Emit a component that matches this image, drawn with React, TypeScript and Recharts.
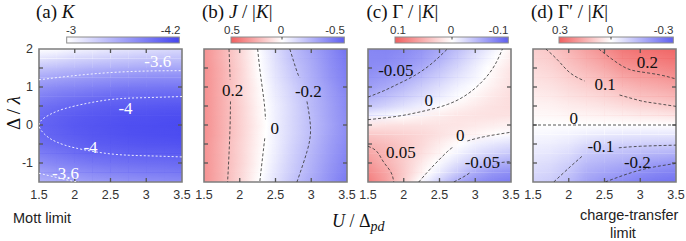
import React from 'react';
import { ComposedChart, XAxis, YAxis, ReferenceArea, ReferenceLine, ReferenceDot, Line } from 'recharts';

const SANS = '"Liberation Sans", Arial, sans-serif';
const SERIF = '"Liberation Serif", "Times New Roman", serif';

// ---------- data ----------
const X_NODES = [1.5, 1.75, 2, 2.25, 2.5, 2.75, 3, 3.25, 3.5];
const Y_NODES = [2, 1.75, 1.5, 1.25, 1, 0.75, 0.5, 0.25, 0, -0.25, -0.5, -0.75, -1, -1.25, -1.5];
const X_TICKS = [1.5, 2, 2.5, 3, 3.5];
const Y_TICKS = [-1, 0, 1, 2];
const X_DOMAIN = [1.5, 3.5];
const Y_DOMAIN = [-1.5, 2];
const INNER_X_TICKS = [2, 2.5, 3];
const INNER_Y_TICKS_LEFT = [-1, -0.5, 0, 0.5, 1, 1.5];
const INNER_Y_TICKS_RIGHT = [-1, 0, 1];

// (a) K  (rows: y = 2 ... -1.5, cols: x = 1.5 ... 3.5)
const K_GRID = [
  [-2.97, -3.02, -3.07, -3.10, -3.14, -3.17, -3.20, -3.23, -3.25],
  [-3.18, -3.22, -3.27, -3.30, -3.33, -3.36, -3.38, -3.40, -3.41],
  [-3.38, -3.42, -3.46, -3.50, -3.52, -3.54, -3.56, -3.57, -3.58],
  [-3.56, -3.60, -3.63, -3.66, -3.69, -3.71, -3.73, -3.74, -3.74],
  [-3.70, -3.75, -3.78, -3.81, -3.84, -3.86, -3.87, -3.88, -3.88],
  [-3.82, -3.87, -3.91, -3.94, -3.97, -3.98, -3.99, -4.00, -4.00],
  [-3.91, -3.96, -4.00, -4.03, -4.05, -4.06, -4.07, -4.08, -4.09],
  [-3.97, -4.02, -4.06, -4.08, -4.10, -4.12, -4.13, -4.14, -4.15],
  [-4.00, -4.04, -4.08, -4.10, -4.12, -4.14, -4.15, -4.16, -4.17],
  [-3.98, -4.02, -4.06, -4.09, -4.11, -4.13, -4.14, -4.15, -4.16],
  [-3.93, -3.97, -4.01, -4.05, -4.07, -4.09, -4.10, -4.11, -4.12],
  [-3.84, -3.89, -3.94, -3.98, -4.00, -4.02, -4.03, -4.04, -4.05],
  [-3.73, -3.79, -3.84, -3.88, -3.91, -3.93, -3.94, -3.95, -3.97],
  [-3.61, -3.67, -3.72, -3.76, -3.79, -3.82, -3.84, -3.85, -3.87],
  [-3.50, -3.55, -3.60, -3.64, -3.67, -3.70, -3.72, -3.74, -3.76],
];

// (b) J/|K|
const J_GRID = [
  [0.34, 0.24, 0.13, 0.00, -0.11, -0.21, -0.29, -0.36, -0.44],
  [0.34, 0.24, 0.13, 0.01, -0.10, -0.20, -0.27, -0.35, -0.42],
  [0.35, 0.25, 0.14, 0.01, -0.09, -0.18, -0.26, -0.34, -0.41],
  [0.35, 0.25, 0.14, 0.02, -0.08, -0.17, -0.25, -0.33, -0.40],
  [0.35, 0.25, 0.14, 0.03, -0.07, -0.15, -0.24, -0.31, -0.39],
  [0.35, 0.25, 0.14, 0.03, -0.06, -0.14, -0.22, -0.30, -0.37],
  [0.35, 0.25, 0.15, 0.04, -0.05, -0.13, -0.22, -0.29, -0.37],
  [0.35, 0.25, 0.15, 0.04, -0.05, -0.13, -0.21, -0.29, -0.36],
  [0.35, 0.25, 0.15, 0.05, -0.05, -0.13, -0.21, -0.28, -0.36],
  [0.35, 0.25, 0.15, 0.04, -0.05, -0.13, -0.21, -0.29, -0.36],
  [0.34, 0.24, 0.14, 0.04, -0.05, -0.14, -0.22, -0.30, -0.37],
  [0.34, 0.24, 0.14, 0.03, -0.06, -0.15, -0.23, -0.31, -0.38],
  [0.34, 0.24, 0.14, 0.03, -0.07, -0.16, -0.24, -0.32, -0.39],
  [0.34, 0.24, 0.13, 0.02, -0.08, -0.17, -0.25, -0.33, -0.40],
  [0.34, 0.24, 0.13, 0.01, -0.09, -0.19, -0.27, -0.34, -0.42],
];

// (c) Gamma/|K|
const G_GRID = [
  [-0.075, -0.076, -0.073, -0.066, -0.055, -0.041, -0.025, -0.009, 0.008],
  [-0.074, -0.074, -0.069, -0.061, -0.049, -0.033, -0.017, -0.002, 0.012],
  [-0.072, -0.069, -0.063, -0.053, -0.039, -0.025, -0.010, 0.004, 0.016],
  [-0.067, -0.062, -0.055, -0.042, -0.030, -0.017, -0.006, 0.006, 0.018],
  [-0.061, -0.054, -0.043, -0.031, -0.020, -0.009, 0.000, 0.010, 0.019],
  [-0.050, -0.041, -0.032, -0.022, -0.012, -0.002, 0.007, 0.015, 0.021],
  [-0.036, -0.028, -0.019, -0.010, -0.001, 0.007, 0.013, 0.018, 0.021],
  [-0.010, -0.005, 0.001, 0.007, 0.012, 0.016, 0.018, 0.019, 0.018],
  [0.015, 0.018, 0.018, 0.018, 0.017, 0.016, 0.014, 0.011, 0.008],
  [0.035, 0.032, 0.029, 0.025, 0.019, 0.012, 0.006, 0.001, -0.003],
  [0.047, 0.041, 0.034, 0.024, 0.012, 0.001, -0.009, -0.015, -0.020],
  [0.056, 0.046, 0.033, 0.020, 0.006, -0.008, -0.020, -0.028, -0.035],
  [0.065, 0.048, 0.032, 0.014, -0.004, -0.020, -0.034, -0.046, -0.052],
  [0.073, 0.056, 0.033, 0.008, -0.014, -0.034, -0.054, -0.065, -0.070],
  [0.082, 0.060, 0.030, -0.004, -0.030, -0.054, -0.068, -0.077, -0.082],
];

// (d) Gamma'/|K|
const GP_GRID = [
  [0.090, 0.107, 0.140, 0.178, 0.212, 0.252, 0.269, 0.275, 0.285],
  [0.080, 0.094, 0.124, 0.156, 0.186, 0.225, 0.242, 0.250, 0.262],
  [0.068, 0.081, 0.107, 0.134, 0.159, 0.196, 0.213, 0.220, 0.235],
  [0.057, 0.067, 0.089, 0.110, 0.132, 0.163, 0.180, 0.189, 0.205],
  [0.046, 0.054, 0.071, 0.088, 0.105, 0.130, 0.147, 0.157, 0.171],
  [0.034, 0.040, 0.054, 0.066, 0.079, 0.097, 0.114, 0.124, 0.136],
  [0.023, 0.027, 0.036, 0.044, 0.053, 0.065, 0.078, 0.088, 0.101],
  [0.011, 0.013, 0.018, 0.022, 0.026, 0.032, 0.039, 0.044, 0.051],
  [0, 0, 0, 0, 0, 0, 0, 0, 0],
  [-0.014, -0.016, -0.022, -0.034, -0.040, -0.043, -0.045, -0.045, -0.047],
  [-0.028, -0.032, -0.044, -0.068, -0.081, -0.086, -0.089, -0.091, -0.094],
  [-0.042, -0.048, -0.066, -0.101, -0.114, -0.122, -0.131, -0.138, -0.146],
  [-0.056, -0.065, -0.088, -0.128, -0.142, -0.155, -0.172, -0.185, -0.198],
  [-0.070, -0.081, -0.108, -0.152, -0.170, -0.188, -0.210, -0.225, -0.235],
  [-0.085, -0.097, -0.128, -0.175, -0.198, -0.215, -0.240, -0.255, -0.265],
];

// contour lines: [x, y] points, null = break for inline label
const A_CONTOURS = [
  [[1.5, 1.19], [2.0, 1.30], [2.5, 1.38], [3.0, 1.42], [3.5, 1.43]],
  [[3.5, 0.75], [3.0, 0.72], [2.5, 0.67], [2.0, 0.50], [1.75, 0.36], [1.6, 0.22], [1.5, 0.0], [1.6, -0.28], [1.75, -0.45], [2.0, -0.6], [2.5, -0.76], [3.0, -0.81], [3.5, -0.84]],
  [[1.5, -1.27], [1.7, -1.36], [1.9, -1.45], [2.05, -1.5]],
];
const B_CONTOURS = [
  [[1.85, 2], [1.86, 1.5], [1.865, 1.2], null, [1.87, 0.62], [1.865, 0], [1.85, -0.75], [1.83, -1.5]],
  [[2.25, 2], [2.29, 1.33], [2.34, 0.62], [2.36, 0.15], null, [2.35, -0.35], [2.31, -1.0], [2.28, -1.5]],
  [[2.70, 2], [2.80, 1.41], [2.84, 1.25], null, [2.94, 0.62], [2.99, -0.09], [2.94, -0.70], [2.80, -1.5]],
];
const C_CONTOURS = [
  [[1.5, 0.735], [1.72, 0.9], [1.91, 1.07], [2.14, 1.29], [2.38, 1.6], [2.61, 2.0]],
  [[1.5, 0.14], [1.91, 0.23], [2.24, 0.35], [2.61, 0.54], [2.94, 0.88], [3.22, 1.42], [3.38, 2.0]],
  [[2.21, -1.5], [2.38, -1.14], [2.61, -0.70], [2.70, -0.58], null, [2.89, -0.42], [3.12, -0.31], [3.5, -0.19]],
  [[2.70, -1.5], [2.84, -1.36], [2.93, -1.25], null, [3.3, -1.0], [3.5, -0.96]],
  [[1.5, -0.56], [1.58, -0.63], [1.65, -0.76], [1.72, -0.98], [1.82, -1.24], [1.86, -1.5]],
];
const D_CONTOURS = [
  [[2.42, 2.0], [2.6, 1.74], [2.8, 1.50], [3.0, 1.40], [3.27, 1.32], [3.5, 1.21]],
  [[1.68, 2.0], [1.85, 1.7], [2.02, 1.37], [2.22, 1.16], null, [2.71, 0.79], [3.0, 0.64], [3.18, 0.58], [3.5, 0.49]],
  [[1.5, 0], [3.5, 0]],
  [[1.79, -1.5], [2.02, -1.10], [2.2, -0.80], null, [2.7, -0.6], [3.0, -0.56], [3.5, -0.53]],
  [[2.51, -1.5], [2.71, -1.36], [2.9, -1.24], [3.1, -1.14], [3.3, -1.07], [3.5, -1.01]],
];

// contour labels
const A_LABELS = [
  { x: 3.16, y: 1.68, t: '-3.6' },
  { x: 2.71, y: 0.44, t: '-4' },
  { x: 2.22, y: -0.57, t: '-4' },
  { x: 1.87, y: -1.26, t: '-3.6' },
];
const B_LABELS = [
  { x: 1.9, y: 0.92, t: '0.2' },
  { x: 2.49, y: -0.07, t: '0' },
  { x: 2.96, y: 0.9, t: '-0.2' },
];
const C_LABELS = [
  { x: 1.89, y: 1.44, t: '-0.05' },
  { x: 2.35, y: 0.67, t: '0' },
  { x: 2.79, y: -0.27, t: '0' },
  { x: 3.10, y: -0.96, t: '-0.05' },
  { x: 1.96, y: -0.70, t: '0.05' },
];
const D_LABELS = [
  { x: 3.10, y: 1.65, t: '0.2' },
  { x: 2.51, y: 1.07, t: '0.1' },
  { x: 2.07, y: 0.19, t: '0' },
  { x: 2.45, y: -0.56, t: '-0.1' },
  { x: 2.96, y: -0.96, t: '-0.2' },
];

// colour-bar tick labels
const CB_A = ['-3', '-4.2'];
const CB_B = ['0.5', '0', '-0.5'];
const CB_C = ['0.1', '0', '-0.1'];
const CB_D = ['0.3', '0', '-0.3'];

// ---------- colours ----------
const WHITE = [255, 255, 255];
const RED = [240, 95, 95];
const BLUE = [95, 95, 240];
const DEEP_BLUE = [70, 70, 240];

function mix(a: number[], t: number) {
  const c = WHITE.map((w, i) => Math.round(w + (a[i] - w) * t));
  return `rgb(${c[0]},${c[1]},${c[2]})`;
}
const seqK = (v: number) => mix(DEEP_BLUE, Math.max(0, Math.min(1, (-3 - v) / 1.2)));
const diverging = (max: number) => (v: number) => {
  const t = Math.max(-1, Math.min(1, v / max));
  return t >= 0 ? mix(RED, t) : mix(BLUE, -t);
};

// ---------- panel ----------
type Pt = [number, number] | null;

// cells between grid nodes; layer 0 carries the top-edge values, layer 1 the bottom-edge values
function buildCells(grid: number[][]) {
  const cells: any[] = [];
  for (let j = 0; j < Y_NODES.length - 1; j++) {
    for (let i = 0; i < X_NODES.length - 1; i++) {
      cells.push({
        x1: X_NODES[i], x2: X_NODES[i + 1], y1: Y_NODES[j + 1], y2: Y_NODES[j],
        top: [grid[j][i], grid[j][i + 1]], bot: [grid[j + 1][i], grid[j + 1][i + 1]],
      });
    }
  }
  return cells;
}

function gradStops(a: number, b: number, cmap: (v: number) => string, div: boolean) {
  if (div && a * b < 0) {
    const f = a / (a - b);
    return [[0, cmap(a)], [f, 'rgb(255,255,255)'], [1, cmap(b)]];
  }
  return [[0, cmap(a)], [1, cmap(b)]];
}

function toLine(c: Pt[]) {
  const out: any[] = [];
  let last = 0;
  c.forEach((p) => {
    if (p === null) out.push({ x: last, y: null });
    else { out.push({ x: p[0], y: p[1] }); last = p[0]; }
  });
  return out;
}

const PW = 143;

function Panel(props: any) {
  const { id, left, grid, cmap, div, contours, labels, lineColor, labelColor, showY, dash } = props;
  const cells = buildCells(grid);
  const mLeft = showY ? 0 : 14;
  const yW = showY ? 39 : 0;
  const chartLeft = showY ? 0 : left - 14;
  const width = (showY ? 39 : 14) + PW + 14;
  const tickStroke = '#555';
  const tl = 0.105;
  const tlx = 0.056;
  const fadeId = `${id}fade`;
  return (
    <div style={{ position: 'absolute', left: chartLeft, top: 0 }}>
      <ComposedChart width={width} height={241} margin={{ top: 49, right: 14, bottom: 39, left: mLeft }}>
        <defs>
          <linearGradient id={`${id}fadeg`} x1="0" y1="0" x2="0" y2="1">
            <stop offset={0} stopColor="#000" />
            <stop offset={1} stopColor="#fff" />
          </linearGradient>
          <mask id={fadeId} maskContentUnits="objectBoundingBox" x="-0.05" y="-0.05" width="1.1" height="1.1">
            <rect x={0} y={0} width={1} height={1} fill={`url(#${id}fadeg)`} />
          </mask>
          {cells.map((c: any, k: number) => (
            <React.Fragment key={k}>
              <linearGradient id={`${id}t${k}`} x1="0" y1="0" x2="1" y2="0">
                {gradStops(c.top[0], c.top[1], cmap, div).map((s, m) => (
                  <stop key={m} offset={s[0] as number} stopColor={s[1] as string} />
                ))}
              </linearGradient>
              <linearGradient id={`${id}b${k}`} x1="0" y1="0" x2="1" y2="0">
                {gradStops(c.bot[0], c.bot[1], cmap, div).map((s, m) => (
                  <stop key={m} offset={s[0] as number} stopColor={s[1] as string} />
                ))}
              </linearGradient>
            </React.Fragment>
          ))}
        </defs>
        <XAxis type="number" dataKey="x" domain={X_DOMAIN} allowDataOverflow ticks={X_TICKS} interval={0}
          tickLine={false} axisLine={false} tickSize={0} tickMargin={8} height={20}
          tick={{ fontSize: 12.5, fill: '#333', fontFamily: SANS }} />
        {showY ? (
          <YAxis type="number" dataKey="y" domain={Y_DOMAIN} allowDataOverflow ticks={Y_TICKS} interval={0}
            width={yW} tickLine={false} axisLine={false} tickSize={0} tickMargin={6}
            tick={{ fontSize: 12.5, fill: '#333', fontFamily: SANS }} />
        ) : (
          <YAxis type="number" dataKey="y" domain={Y_DOMAIN} allowDataOverflow hide />
        )}
        {cells.map((c: any, k: number) => (
          <ReferenceArea key={`t${k}`} x1={c.x1} x2={c.x2} y1={c.y1} y2={c.y2}
            fill={`url(#${id}t${k})`} fillOpacity={1} stroke="none" strokeWidth={0}
            shapeRendering="crispEdges" ifOverflow="visible" />
        ))}
        {cells.map((c: any, k: number) => (
          <ReferenceArea key={`b${k}`} x1={c.x1} x2={c.x2} y1={c.y1} y2={c.y2}
            fill={`url(#${id}b${k})`} fillOpacity={1} stroke="none" strokeWidth={0}
            mask={`url(#${fadeId})`}
            shapeRendering="crispEdges" ifOverflow="visible" />
        ))}
        <ReferenceArea x1={1.5} x2={3.5} y1={-1.5} y2={2} fill="none" fillOpacity={0} stroke="#7d7d7d" strokeWidth={1.6} ifOverflow="visible" />
        {INNER_X_TICKS.map((t) => (
          <ReferenceLine key={`xb${t}`} segment={[{ x: t, y: -1.5 }, { x: t, y: -1.5 + tl }]} stroke={tickStroke} strokeWidth={1.3} ifOverflow="visible" />
        ))}
        {INNER_X_TICKS.map((t) => (
          <ReferenceLine key={`xt${t}`} segment={[{ x: t, y: 2 }, { x: t, y: 2 - tl }]} stroke={tickStroke} strokeWidth={1.3} ifOverflow="visible" />
        ))}
        {INNER_Y_TICKS_LEFT.map((t) => (
          <ReferenceLine key={`yl${t}`} segment={[{ x: 1.5, y: t }, { x: 1.5 + tlx, y: t }]} stroke={tickStroke} strokeWidth={1.3} ifOverflow="visible" />
        ))}
        {INNER_Y_TICKS_RIGHT.map((t) => (
          <ReferenceLine key={`yr${t}`} segment={[{ x: 3.5, y: t }, { x: 3.5 - tlx, y: t }]} stroke={tickStroke} strokeWidth={1.3} ifOverflow="visible" />
        ))}
        {contours.map((c: Pt[], k: number) => (
          <Line key={`l${k}`} data={toLine(c)} dataKey="y" type="natural" stroke={lineColor} strokeWidth={0.85}
            strokeDasharray={dash} dot={false} activeDot={false} isAnimationActive={false} connectNulls={false} />
        ))}
        {labels.map((l: any, k: number) => (
          <ReferenceDot key={`d${k}`} x={l.x} y={l.y} r={0} fill="none" stroke="none" ifOverflow="visible"
            label={{ value: l.t, position: 'center', fill: labelColor, fontSize: 17, fontFamily: SERIF }} />
        ))}
      </ComposedChart>
    </div>
  );
}

// ---------- overlay (titles, colour bars, axis titles) ----------
function ColorBar({ id, x0, x1, zero, labels, lpos, kind }: any) {
  const w = x1 - x0;
  const stops = kind === 'seq'
    ? [[0, 'rgb(255,255,255)'], [1, `rgb(${DEEP_BLUE.join(',')})`]]
    : [[0, `rgb(${RED.join(',')})`], [(zero - x0) / w, 'rgb(255,255,255)'], [1, `rgb(${BLUE.join(',')})`]];
  return (
    <g>
      <defs>
        <linearGradient id={id} x1="0" y1="0" x2="1" y2="0">
          {stops.map((s, k) => <stop key={k} offset={s[0] as number} stopColor={s[1] as string} />)}
        </linearGradient>
      </defs>
      <rect x={x0} y={37} width={w} height={6} fill={`url(#${id})`} stroke="#8c8c8c" strokeWidth={1} />
      {zero != null && <line x1={zero} x2={zero} y1={37} y2={39.5} stroke="#444" strokeWidth={1} />}
      {labels.map((t: string, k: number) => (
        <text key={k} x={lpos[k][0]} y={34} textAnchor={lpos[k][1]} fontSize={11.5} fill="#333" fontFamily={SANS}>{t}</text>
      ))}
    </g>
  );
}

export default function App() {
  return (
    <div style={{ position: 'absolute', left: 0, top: 0, width: 686, height: 241, background: '#fff', overflow: 'hidden' }}>
      <Panel id="pa" left={39} grid={K_GRID} cmap={seqK} div={false} contours={A_CONTOURS} labels={A_LABELS}
        lineColor="#ffffff" labelColor="#ffffff" showY dash="2 2" />
      <Panel id="pb" left={203.5} grid={J_GRID} cmap={diverging(0.5)} div contours={B_CONTOURS} labels={B_LABELS}
        lineColor="#3a3a3a" labelColor="#111" dash="3 2" />
      <Panel id="pc" left={368} grid={G_GRID} cmap={diverging(0.1)} div contours={C_CONTOURS} labels={C_LABELS}
        lineColor="#3a3a3a" labelColor="#111" dash="3 2" />
      <Panel id="pd" left={532.5} grid={GP_GRID} cmap={diverging(0.3)} div contours={D_CONTOURS} labels={D_LABELS}
        lineColor="#3a3a3a" labelColor="#111" dash="3 2" />
      <svg width={686} height={241} style={{ position: 'absolute', left: 0, top: 0, pointerEvents: 'none' }}>
        <text x={36} y={17.5} fontFamily={SERIF} fontSize={19} fill="#111">(a) <tspan fontStyle="italic">K</tspan></text>
        <text x={202} y={17.5} fontFamily={SERIF} fontSize={19} fill="#111">(b) <tspan fontStyle="italic">J</tspan> / |<tspan fontStyle="italic">K</tspan>|</text>
        <text x={366.5} y={17.5} fontFamily={SERIF} fontSize={19} fill="#111">(c) Γ / |<tspan fontStyle="italic">K</tspan>|</text>
        <text x={531} y={17.5} fontFamily={SERIF} fontSize={19} fill="#111">(d) Γ′ / |<tspan fontStyle="italic">K</tspan>|</text>

        <ColorBar id="cba" x0={66.7} x1={179.3} zero={null} labels={CB_A} lpos={[[66, 'start'], [180.5, 'end']]} kind="seq" />
        <ColorBar id="cbb" x0={231} x1={344.3} zero={282} labels={CB_B} lpos={[[232, 'middle'], [281, 'middle'], [345, 'end']]} kind="div" />
        <ColorBar id="cbc" x0={395} x1={508.3} zero={452} labels={CB_C} lpos={[[398, 'middle'], [451, 'middle'], [508.5, 'end']]} kind="div" />
        <ColorBar id="cbd" x0={559} x1={673.3} zero={611} labels={CB_D} lpos={[[560, 'middle'], [610, 'middle'], [673.5, 'end']]} kind="div" />

        <text x={19.5} y={113} transform="rotate(-90 19.5 113)" textAnchor="middle" fontFamily={SERIF} fontSize={19} fill="#111">Δ / <tspan fontStyle="italic">λ</tspan></text>

        <text x={332} y={226.5} fontFamily={SERIF} fontSize={18} fill="#111"><tspan fontStyle="italic">U</tspan> / Δ<tspan fontStyle="italic" fontSize={14} dy={4}>pd</tspan></text>

        <text x={13} y={223} fontFamily={SANS} fontSize={14.5} fill="#222">Mott limit</text>
        <text x={580} y={220} fontFamily={SANS} fontSize={14.5} fill="#222">charge-transfer</text>
        <text x={623} y={238} textAnchor="middle" fontFamily={SANS} fontSize={14.5} fill="#222">limit</text>
      </svg>
    </div>
  );
}
